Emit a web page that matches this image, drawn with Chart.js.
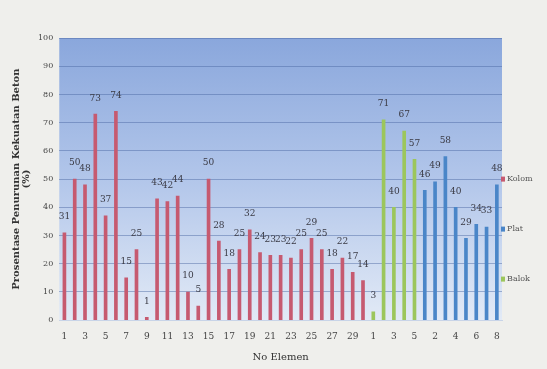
<!DOCTYPE html>
<html>
<head>
<meta charset="utf-8">
<script src="https://cdn.jsdelivr.net/npm/chart.js@4"></script>
<style>
  html, body { margin: 0; padding: 0; background: #efefec; }
  #wrap { width: 547px; height: 369px; }
</style>
</head>
<body>
<div id="wrap"><canvas id="c" width="547" height="369"></canvas></div>
<script>
// ---- data ----
const kolomValues = [31, 50, 48, 73, 37, 74, 15, 25, 1, 43, 42, 44, 10, 5, 50, 28, 18, 25, 32, 24, 23, 23, 22, 25, 29, 25, 18, 22, 17, 14];
const balokValues = [3, 71, 40, 67, 57];
const platValues = [46, 49, 58, 40, 29, 34, 33, 48];
const seriesNames = ["Kolom", "Plat", "Balok"];
const yTicks = [0, 10, 20, 30, 40, 50, 60, 70, 80, 90, 100];
const yTitle = ["Prosentase Penurunan Kekuatan Beton", "(%)"];
const xTitle = "No Elemen";

const kolomLabels = kolomValues.map((v, i) => String(i + 1));
const balokLabels = balokValues.map((v, i) => String(i + 1));
const platLabels = platValues.map((v, i) => String(i + 1));
const labels = kolomLabels.concat(balokLabels, platLabels);
const nK = kolomValues.length, nB = balokValues.length;

const kolomData = labels.map((_, i) => i < nK ? kolomValues[i] : null);
const balokData = labels.map((_, i) => (i >= nK && i < nK + nB) ? balokValues[i - nK] : null);
const platData = labels.map((_, i) => i >= nK + nB ? platValues[i - nK - nB] : null);

const plotBg = {
  id: 'plotBg',
  beforeDraw(chart) {
    const { ctx, chartArea: a } = chart;
    const g = ctx.createLinearGradient(0, a.top, 0, a.bottom);
    g.addColorStop(0, '#8aa7dc');
    g.addColorStop(0.5, '#b2c6ea');
    g.addColorStop(1, '#e2eaf6');
    ctx.save();
    ctx.fillStyle = g;
    ctx.fillRect(a.left, a.top, a.right - a.left, a.bottom - a.top);
    ctx.restore();
  }
};

const valueLabels = {
  id: 'valueLabels',
  afterDatasetsDraw(chart) {
    const { ctx } = chart;
    ctx.save();
    ctx.font = '9px "DejaVu Serif", serif';
    ctx.fillStyle = '#3a3a44';
    ctx.textAlign = 'center';
    ctx.textBaseline = 'middle';
    chart.data.datasets.forEach((ds, di) => {
      const meta = chart.getDatasetMeta(di);
      meta.data.forEach((el, i) => {
        const v = ds.data[i];
        if (v === null || v === undefined) return;
        ctx.fillText(String(v), el.x, el.y - 16);
      });
    });
    ctx.restore();
  }
};

// legend drawn beside the plot, spaced like the original
const sideLegend = {
  id: 'sideLegend',
  afterDraw(chart) {
    const { ctx, chartArea: a } = chart;
    const mid = (a.top + a.bottom) / 2;
    ctx.save();
    ctx.font = '8px "DejaVu Serif", serif';
    ctx.textAlign = 'left';
    ctx.textBaseline = 'middle';
    chart.data.datasets.forEach((ds, i) => {
      const y = mid + (i * 50);
      ctx.fillStyle = ds.backgroundColor;
      ctx.fillRect(a.right - 1, y - 2.5, 4, 5);
      ctx.fillStyle = '#555';
      ctx.fillText(ds.label, a.right + 5, y);
    });
    ctx.restore();
  }
};

new Chart(document.getElementById('c'), {
  type: 'bar',
  data: {
    labels: labels,
    datasets: [
      { label: seriesNames[0], data: kolomData, backgroundColor: '#c65a70', barThickness: 3, grouped: false },
      { label: seriesNames[1], data: platData, backgroundColor: '#4a86c8', barThickness: 3, grouped: false },
      { label: seriesNames[2], data: balokData, backgroundColor: '#9cc65c', barThickness: 3, grouped: false }
    ]
  },
  options: {
    responsive: false,
    animation: false,
    skipNull: true,
    layout: { padding: { left: 10, top: 38, right: 45, bottom: 2 } },
    plugins: {
      legend: { display: false },
      tooltip: { enabled: false }
    },
    scales: {
      x: {
        grid: { display: false },
        border: { color: '#c8d4e8' },
        ticks: {
          autoSkip: false, maxRotation: 0, minRotation: 0,
          color: '#444', padding: 3,
          font: { size: 9, family: '"DejaVu Serif", serif' },
          callback: function(val, idx) { return idx % 2 === 0 ? this.getLabelForValue(val) : ''; }
        },
        title: { display: true, text: xTitle, color: '#333', font: { size: 10, family: '"DejaVu Serif", serif' }, padding: { top: 6 } }
      },
      y: {
        min: 0, max: 100,
        afterBuildTicks: (scale) => { scale.ticks = yTicks.map(v => ({ value: v })); },
        grid: { color: 'rgba(70,100,160,0.45)', drawTicks: false },
        border: { display: false },
        ticks: { color: '#444', padding: 6, font: { size: 8, family: '"DejaVu Serif", serif' } },
        title: { display: true, text: yTitle, color: '#333', font: { size: 10, weight: 'bold', family: '"DejaVu Serif", serif', lineHeight: 1.0 }, padding: 1 }
      }
    }
  },
  plugins: [plotBg, valueLabels, sideLegend]
});
</script>
</body>
</html>
